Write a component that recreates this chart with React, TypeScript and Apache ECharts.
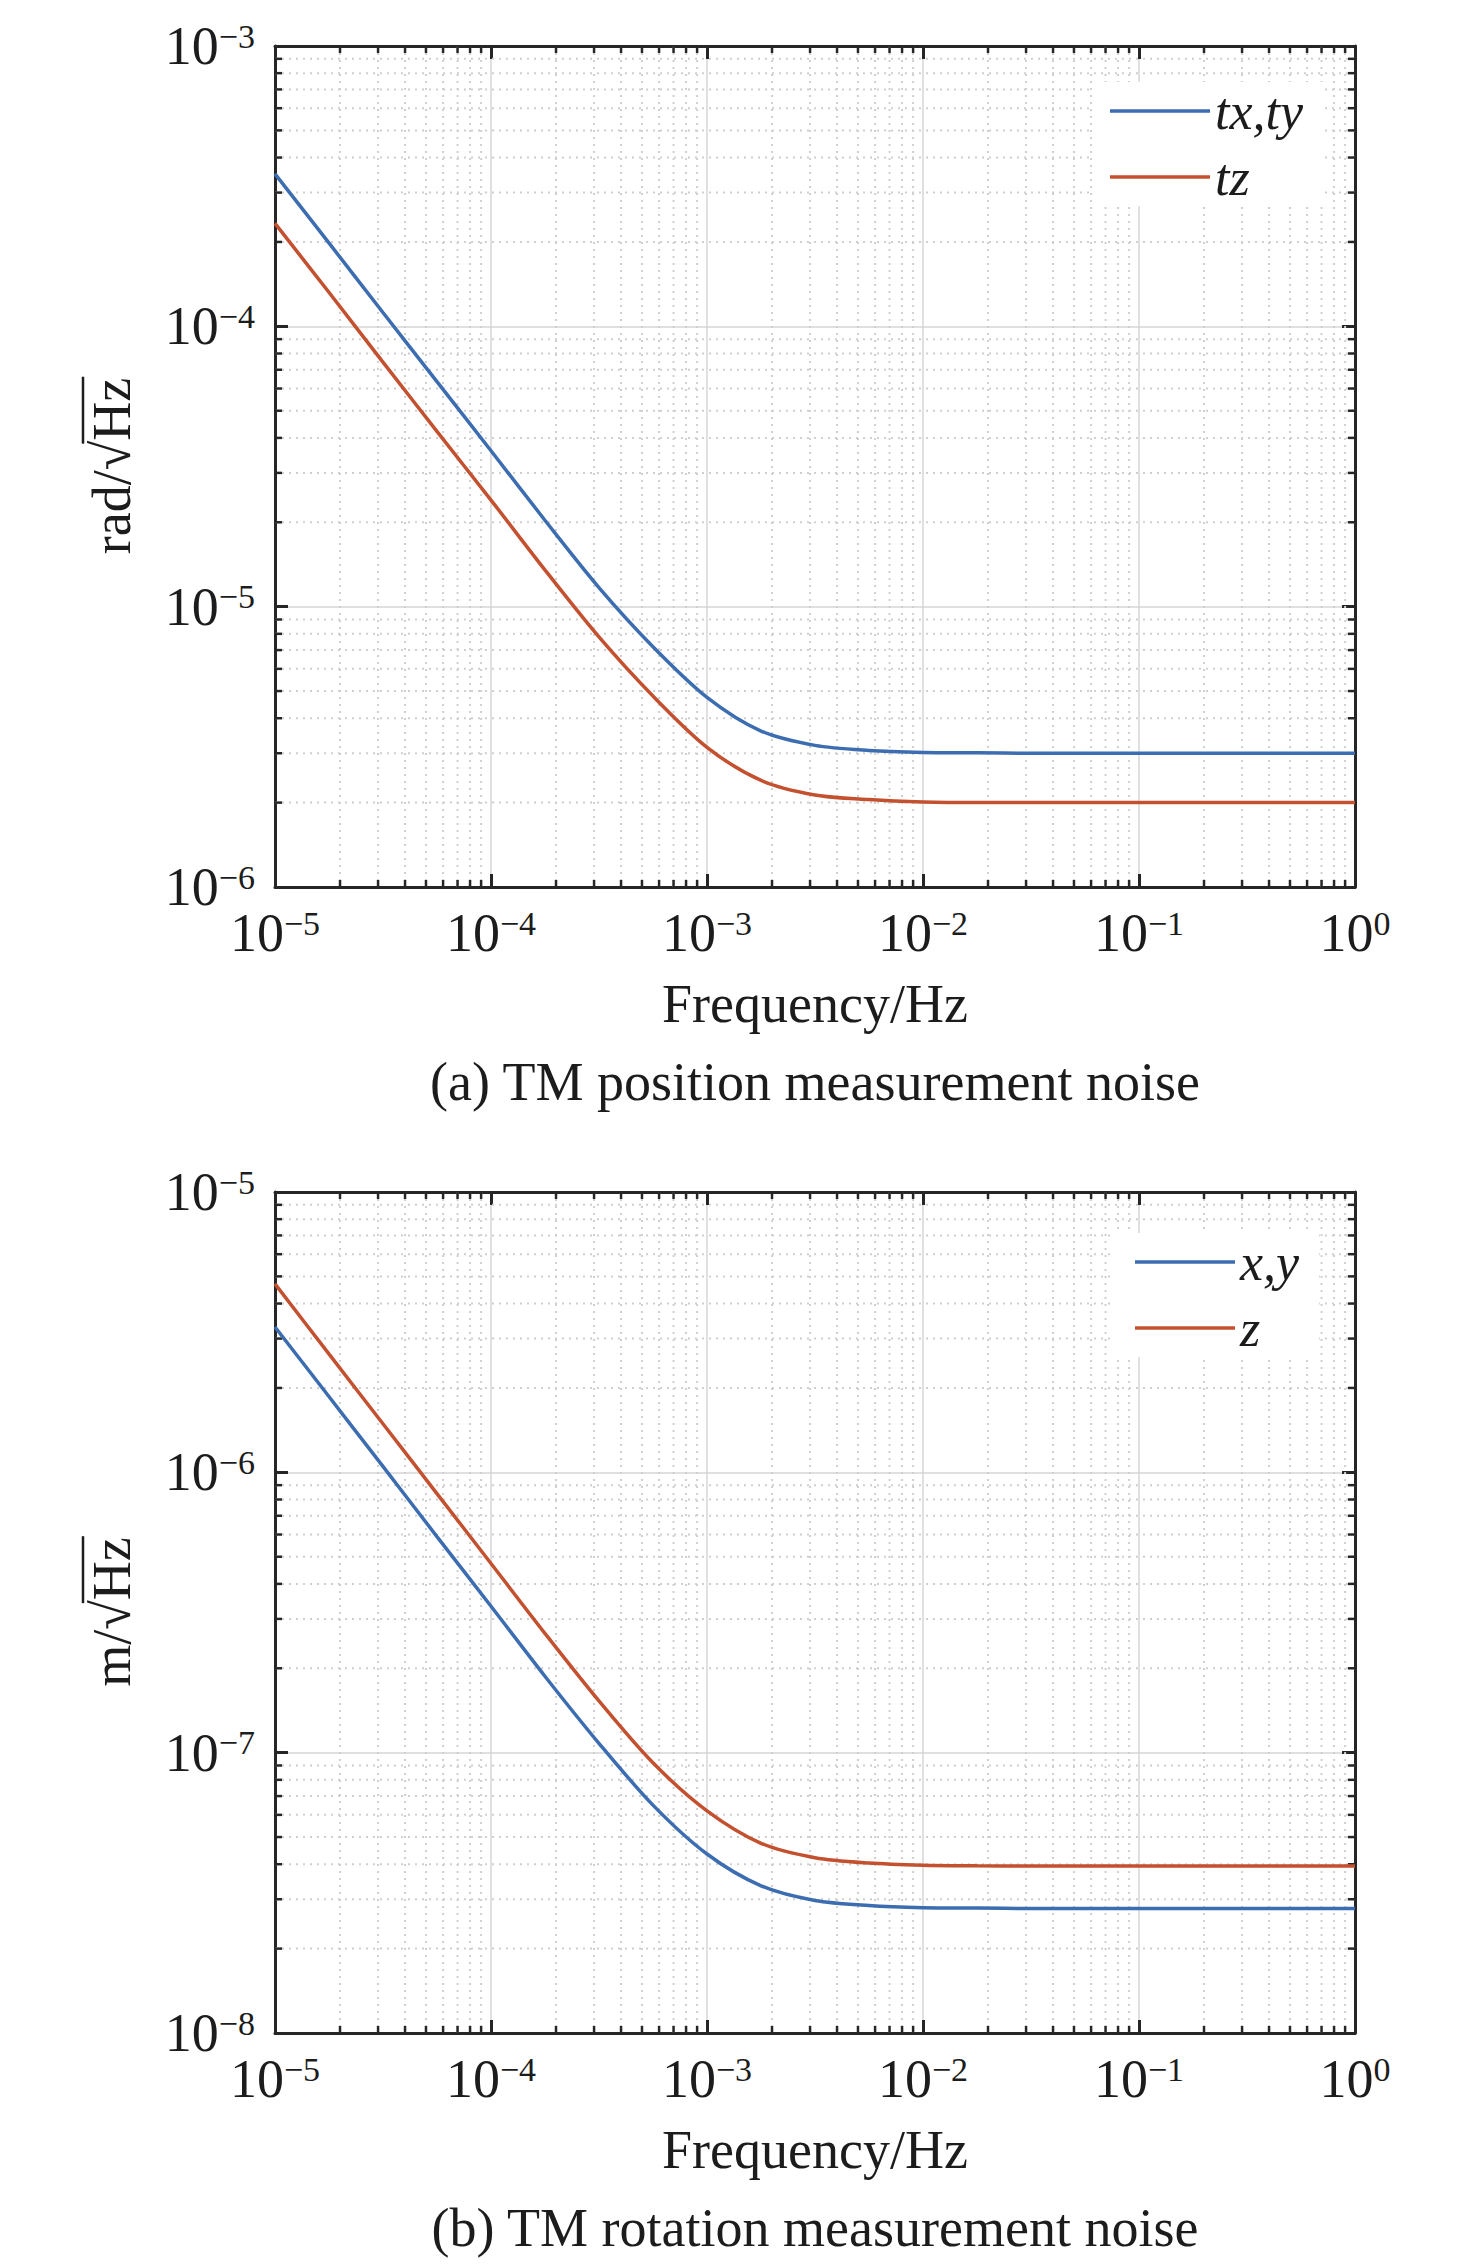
import React, { useEffect, useRef } from "react";
import * as echarts from "echarts";

// ---- data (quarter-decade frequency samples) ----
const FREQ = [
  1e-5, 1.78e-5, 3.16e-5, 5.62e-5, 1e-4, 1.78e-4, 3.16e-4, 5.62e-4, 1e-3, 1.78e-3, 3.16e-3,
  5.62e-3, 1e-2, 1.78e-2, 3.16e-2, 5.62e-2, 1e-1, 1.78e-1, 3.16e-1, 5.62e-1, 1,
];
const POS_TXTY = [
  3.5e-4, 1.98e-4, 1.12e-4, 6.35e-5, 3.6e-5, 2.03e-5, 1.17e-5, 7.2e-6, 4.75e-6, 3.6e-6, 3.2e-6,
  3.07e-6, 3.02e-6, 3.01e-6, 3.0e-6, 3.0e-6, 3.0e-6, 3.0e-6, 3.0e-6, 3.0e-6, 3.0e-6,
];
const POS_TZ = [
  2.33e-4, 1.32e-4, 7.45e-5, 4.22e-5, 2.4e-5, 1.35e-5, 7.8e-6, 4.8e-6, 3.15e-6, 2.4e-6, 2.13e-6,
  2.05e-6, 2.01e-6, 2.0e-6, 2.0e-6, 2.0e-6, 2.0e-6, 2.0e-6, 2.0e-6, 2.0e-6, 2.0e-6,
];
const ROT_XY = [
  3.3e-6, 1.86e-6, 1.05e-6, 5.9e-7, 3.33e-7, 1.87e-7, 1.08e-7, 6.5e-8, 4.35e-8, 3.35e-8, 2.97e-8,
  2.85e-8, 2.8e-8, 2.79e-8, 2.78e-8, 2.78e-8, 2.78e-8, 2.78e-8, 2.78e-8, 2.78e-8, 2.78e-8,
];
const ROT_Z = [
  4.7e-6, 2.64e-6, 1.49e-6, 8.4e-7, 4.73e-7, 2.66e-7, 1.53e-7, 9.2e-8, 6.2e-8, 4.75e-8, 4.22e-8,
  4.04e-8, 3.97e-8, 3.95e-8, 3.94e-8, 3.94e-8, 3.94e-8, 3.94e-8, 3.94e-8, 3.94e-8, 3.94e-8,
];

const X_DECADES = [-5, -4, -3, -2, -1]; // minor ticks within these decades
const Y1_DECADES = [-6, -5, -4];
const Y2_DECADES = [-8, -7, -6];
const X_RANGE = [1e-5, 1];
const Y1_RANGE = [1e-6, 1e-3];
const Y2_RANGE = [1e-8, 1e-5];

const SERIES_NAMES_A = ["tx,ty", "tz"];
const SERIES_NAMES_B = ["x,y", "z"];
const X_NAME = "Frequency/Hz";
const CAPTION_A = "(a) TM position measurement noise";
const CAPTION_B = "(b) TM rotation measurement noise";
const Y_PREFIX_A = "rad/\u221A";
const Y_PREFIX_B = "m/\u221A";

// ---- styles ----
const FONT = "Liberation Serif";
const TXT = "#1c1c1c";
const AXIS = "#262626";
const BLUE = "#3D6DB1";
const RED = "#C3502E";
const GRID_A = { left: 275, top: 46, width: 1080, height: 841 };
const GRID_B = { left: 275, top: 1192, width: 1080, height: 841 };

function textWidth(s: string, size: number, italic = false): number {
  const ctx = document.createElement("canvas").getContext("2d");
  if (!ctx) return s.length * size * 0.5;
  ctx.font = `${italic ? "italic " : ""}${size}px "${FONT}"`;
  return ctx.measureText(s).width;
}

const powLabel = (v: number) => {
  const e = Math.round(Math.log10(v));
  const s = e < 0 ? "\u2212" + -e : String(e);
  return `{b|10}{s|${s}}`;
};
const rich = {
  b: { fontFamily: FONT, fontSize: 54, lineHeight: 54, color: TXT },
  s: { fontFamily: FONT, fontSize: 34, lineHeight: 30, color: TXT, verticalAlign: "top" },
};

function xAxes(gridIndex: number) {
  const common = {
    type: "log",
    logBase: 10,
    gridIndex,
    min: X_RANGE[0],
    max: X_RANGE[1],
    splitNumber: 5,
    axisLine: { show: true, onZero: false, lineStyle: { color: AXIS, width: 3 } },
    axisTick: { show: true, inside: true, length: 13, lineStyle: { color: AXIS, width: 3 } },
    minorTick: { show: false },
  };
  return [
    {
      ...common,
      position: "bottom",
      axisLabel: { show: true, margin: 19, formatter: powLabel, rich, showMinLabel: true, showMaxLabel: true, hideOverlap: false },
      splitLine: { show: true, lineStyle: { color: "#d6d6d6", width: 1.5 } },
    },
    {
      ...common,
      position: "top",
      axisLabel: { show: false },
      splitLine: { show: false },
    },
  ];
}

function yAxes(gridIndex: number, range: number[]) {
  const common = {
    type: "log",
    logBase: 10,
    gridIndex,
    min: range[0],
    max: range[1],
    splitNumber: 3,
    axisLine: { show: true, onZero: false, lineStyle: { color: AXIS, width: 3 } },
    axisTick: { show: true, inside: true, length: 13, lineStyle: { color: AXIS, width: 3 } },
    minorTick: { show: false },
  };
  return [
    {
      ...common,
      position: "left",
      axisLabel: { show: true, margin: 20, formatter: powLabel, rich, showMinLabel: true, showMaxLabel: true, hideOverlap: false },
      splitLine: { show: true, lineStyle: { color: "#d6d6d6", width: 1.5 } },
    },
    {
      ...common,
      position: "right",
      axisLabel: { show: false },
      splitLine: { show: false },
    },
  ];
}

function minorSeries(xIdx: number, yIdx: number, yRange: number[], yDecades: number[]) {
  return {
    type: "custom",
    xAxisIndex: xIdx,
    yAxisIndex: yIdx,
    silent: true,
    z: 1,
    data: [[X_RANGE[0], yRange[0]]],
    renderItem: (params: any, api: any) => {
      const cs = params.coordSys;
      const left = cs.x, top = cs.y, right = cs.x + cs.width, bottom = cs.y + cs.height;
      const children: any[] = [];
      const dot = { stroke: "#cfcfcf", lineWidth: 2, lineDash: [2, 5] };
      const tick = { stroke: AXIS, lineWidth: 2.5 };
      for (const e of X_DECADES) {
        for (let k = 2; k <= 9; k++) {
          const x = api.coord([k * Math.pow(10, e), yRange[0]])[0];
          children.push({ type: "line", shape: { x1: x, y1: top, x2: x, y2: bottom }, style: dot });
          children.push({ type: "line", shape: { x1: x, y1: bottom, x2: x, y2: bottom - 7 }, style: tick });
          children.push({ type: "line", shape: { x1: x, y1: top, x2: x, y2: top + 7 }, style: tick });
        }
      }
      for (const e of yDecades) {
        for (let k = 2; k <= 9; k++) {
          const y = api.coord([X_RANGE[0], k * Math.pow(10, e)])[1];
          children.push({ type: "line", shape: { x1: left, y1: y, x2: right, y2: y }, style: dot });
          children.push({ type: "line", shape: { x1: left, y1: y, x2: left + 7, y2: y }, style: tick });
          children.push({ type: "line", shape: { x1: right, y1: y, x2: right - 7, y2: y }, style: tick });
        }
      }
      return { type: "group", children };
    },
  };
}

function lineSeries(name: string, values: number[], color: string, xIdx: number, yIdx: number) {
  return {
    type: "line",
    name,
    xAxisIndex: xIdx,
    yAxisIndex: yIdx,
    data: FREQ.map((f, i) => [f, values[i]]),
    showSymbol: false,
    symbol: "none",
    smooth: 0.3,
    z: 3,
    color,
    lineStyle: { color, width: 3.5 },
  };
}

function yTitle(prefix: string, cx: number, cy: number) {
  const fs = 54;
  const wp = textWidth(prefix, fs);
  const wh = textWidth("Hz", fs);
  const W = wp + wh;
  const x0 = -W / 2;
  const mid = -0.3375 * fs;
  const st = (text: string) => ({
    text,
    fontFamily: FONT,
    fontSize: fs,
    fill: TXT,
    align: "left",
    verticalAlign: "middle",
  });
  return {
    type: "group",
    x: cx,
    y: cy,
    rotation: Math.PI / 2,
    children: [
      { type: "text", x: x0, y: mid, style: st(prefix) },
      { type: "text", x: x0 + wp, y: mid, style: st("Hz") },
      { type: "line", shape: { x1: x0 + wp - 3, y1: -47, x2: x0 + W + 1, y2: -47 }, style: { stroke: TXT, lineWidth: 2.5 } },
    ],
  };
}

function centerText(text: string, x: number, y: number) {
  return {
    type: "text",
    x,
    y,
    style: { text, fontFamily: FONT, fontSize: 54, fill: TXT, align: "center", verticalAlign: "middle" },
  };
}

function legend(names: string[], left: number, top: number, padLeft: number) {
  return {
    data: names,
    orient: "vertical",
    left,
    top,
    icon: "rect",
    itemWidth: 100,
    itemHeight: 3.5,
    itemGap: 8,
    padding: [0, 20, 0, padLeft],
    backgroundColor: "#ffffff",
    borderWidth: 0,
    selectedMode: false,
    textStyle: { fontFamily: FONT, fontStyle: "italic", fontSize: 52, lineHeight: 58, color: TXT },
  };
}

export default function App() {
  const ref = useRef<HTMLDivElement>(null);
  useEffect(() => {
    if (!ref.current) return;
    document.body.style.margin = "0";
    const chart = echarts.init(ref.current, null, { renderer: "svg" });
    const option: any = {
      animation: false,
      backgroundColor: "#ffffff",
      textStyle: { fontFamily: FONT },
      grid: [
        { ...GRID_A, containLabel: false },
        { ...GRID_B, containLabel: false },
      ],
      xAxis: [...xAxes(0), ...xAxes(1)],
      yAxis: [...yAxes(0, Y1_RANGE), ...yAxes(1, Y2_RANGE)],
      legend: [legend(SERIES_NAMES_A, 1092, 82, 18), legend(SERIES_NAMES_B, 1113, 1233, 22)],
      series: [
        minorSeries(0, 0, Y1_RANGE, Y1_DECADES),
        minorSeries(2, 2, Y2_RANGE, Y2_DECADES),
        lineSeries(SERIES_NAMES_A[0], POS_TXTY, BLUE, 0, 0),
        lineSeries(SERIES_NAMES_A[1], POS_TZ, RED, 0, 0),
        lineSeries(SERIES_NAMES_B[0], ROT_XY, BLUE, 2, 2),
        lineSeries(SERIES_NAMES_B[1], ROT_Z, RED, 2, 2),
      ],
      graphic: [
        centerText(X_NAME, 815, 1004),
        centerText(CAPTION_A, 815, 1082),
        centerText(X_NAME, 815, 2150),
        centerText(CAPTION_B, 815, 2228),
        yTitle(Y_PREFIX_A, 130, 466),
        yTitle(Y_PREFIX_B, 130, 1612),
      ],
    };
    chart.setOption(option);
    return () => chart.dispose();
  }, []);
  return (
    <div
      ref={ref}
      style={{ position: "absolute", left: 0, top: 0, width: 1476, height: 2266, background: "#fff" }}
    />
  );
}
